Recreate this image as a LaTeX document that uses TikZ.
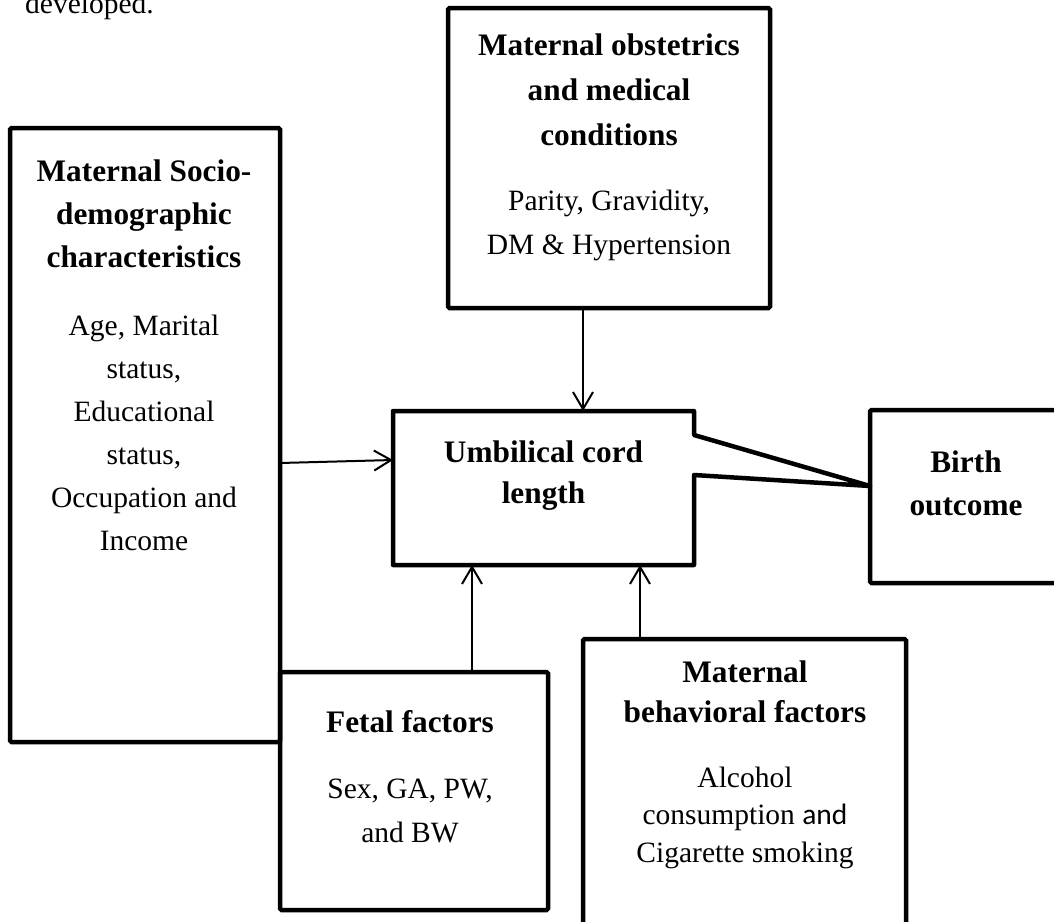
\documentclass[tikz,border=0pt]{standalone}
\usepackage{fontspec}
\setmainfont{Liberation Serif}
\newfontfamily\calfont{Carlito}
\usetikzlibrary{arrows.meta,calc}
\begin{document}
\begin{tikzpicture}[x=1pt,y=-1pt,
  box/.style={draw,line width=4.5pt,rounded corners=1.5pt,inner sep=0pt,outer sep=0pt},
  shell/.style={inner sep=0pt,outer sep=0pt},
  head/.style={font=\fontsize{31.3}{43}\selectfont\bfseries,align=center,anchor=base,inner sep=0pt},
  body/.style={font=\fontsize{29.5}{43}\selectfont,align=center,anchor=base,inner sep=0pt},
  arr/.style={line width=2pt,-{Straight Barb[length=17pt,width=20pt,line width=2pt]}}]

\useasboundingbox (0,0) rectangle (1054,921);
\clip (0,0) rectangle (1054,921);

% boxes
\node[box,minimum width=270pt,minimum height=614pt] (socio) at (145,435) {};
\node[box,minimum width=322pt,minimum height=300pt] (obst) at (609,158) {};
\node[box,minimum width=192pt,minimum height=173pt] (birth) at (966,496.5) {};
\node[box,minimum width=268pt,minimum height=238pt] (fetal) at (414,791) {};
\node[box,minimum width=323pt,minimum height=296pt] (behav) at (744.5,787) {};
\node[shell,minimum width=301pt,minimum height=154pt] (ucl) at (543.5,488) {};

% umbilical cord box with wedge to birth outcome
\draw[line width=4.5pt,line join=round]
  (ucl.north west) -- (ucl.north east) -- ($(ucl.north east)+(0,24)$)
  -- ($(birth.west)+(0,-10.5)$) -- ($(ucl.north east)+(0,64)$)
  -- (ucl.south east) -- (ucl.south west) -- cycle;

% texts (anchor base = baseline of last line)
\node[body,anchor=base west] (dev) at (25,13) {developed.};
\node[head] (sochead) at (144,267) {Maternal Socio-\\demographic\\characteristics};
\node[body] (sobody) at (144,550) {Age, Marital\\status,\\Educational\\status,\\Occupation and\\Income};
\node[head,font=\fontsize{31.3}{45}\selectfont\bfseries] (obhead) at (609,145) {Maternal obstetrics\\and medical\\conditions};
\node[body,font=\fontsize{29.5}{44}\selectfont] (obbody) at (609,254) {Parity, Gravidity,\\DM \& Hypertension};
\node[head,font=\fontsize{31.3}{41}\selectfont\bfseries] (uchead) at (543.5,503) {Umbilical cord\\length};
\node[head] (bihead) at (966,515) {Birth\\outcome};
\node[head] (fehead) at (410,732) {Fetal factors};
\node[body,font=\fontsize{29.5}{44}\selectfont] (febody) at (410,842) {Sex, GA, PW,\\and BW};
\node[head,font=\fontsize{31.3}{40}\selectfont\bfseries] (behead) at (745,722) {Maternal\\behavioral factors};
\node[body,font=\fontsize{29.5}{37.5}\selectfont] (bebody) at (745,862) {Alcohol\\consumption {\calfont and}\\Cigarette smoking};

% arrows
\draw[arr] ($(socio.east)+(0,28)$) -- ($(ucl.west)+(0,-28)$);
\draw[arr] ($(obst.south)+(-26,0)$) -- ($(ucl.north)+(39.5,0)$);
\draw[arr] ($(fetal.north)+(58,0)$) -- ($(ucl.south)+(-71.5,0)$);
\draw[arr] ($(behav.north)+(-104.5,0)$) -- ($(ucl.south)+(96.5,0)$);
\end{tikzpicture}
\end{document}
